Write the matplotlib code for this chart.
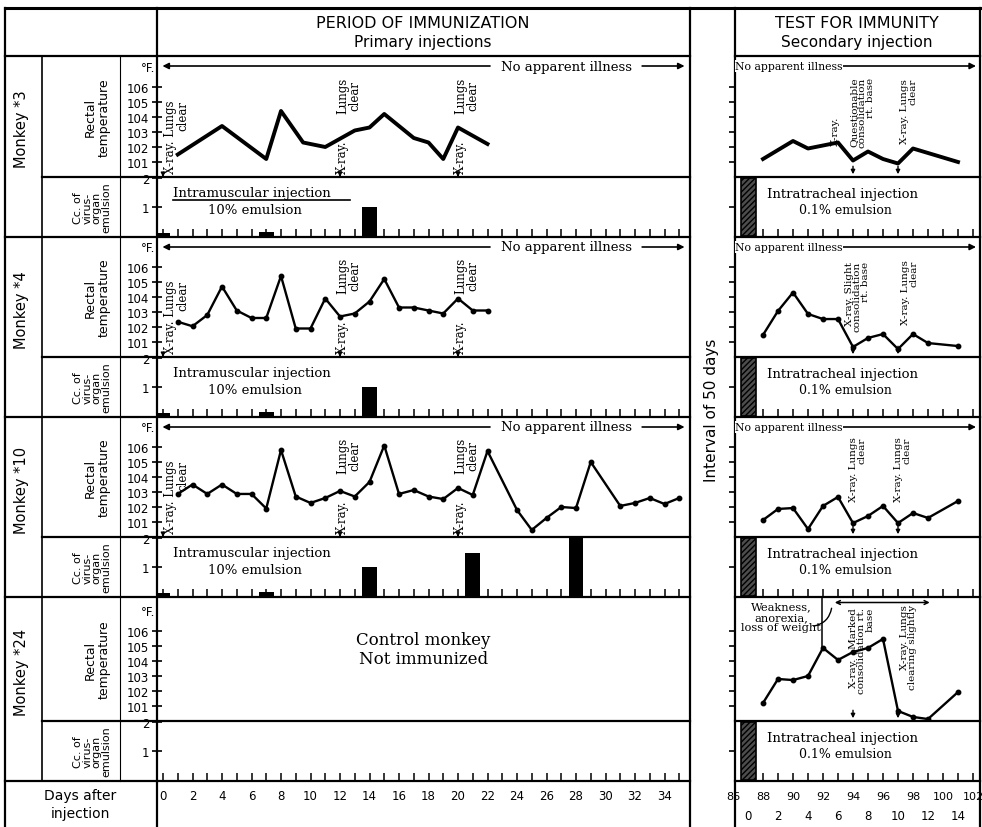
import matplotlib
matplotlib.use("Agg")
import matplotlib.pyplot as plt
from matplotlib.transforms import blended_transform_factory

W, H = 982, 828

# rectal temperature (deg F) by day after the first primary injection
m3_days = [1, 4, 7, 8, 9.5, 11, 13, 14, 15, 17, 18, 19, 20, 22]
m3_temp = [101.5, 103.4, 101.2, 104.4, 102.3, 102.0, 103.1, 103.3, 104.2, 102.6, 102.3, 101.2, 103.3, 102.2]
m4_days = list(range(1, 23))
m4_temp = [102.35, 102.05, 102.8, 104.7, 103.1, 102.6, 102.6, 105.4, 101.9, 101.9, 103.9,
           102.7, 102.9, 103.7, 105.2, 103.3, 103.3, 103.1, 102.9, 103.9, 103.1, 103.1]
m10_days = list(range(1, 23)) + [24, 25, 26, 27, 28, 29, 31, 32, 33, 34, 35]
m10_temp = [102.87, 103.5, 102.87, 103.5, 102.87, 102.87, 101.9, 105.8, 102.7, 102.27, 102.6,
            103.07, 102.7, 103.67, 106.1, 102.87, 103.13, 102.7, 102.53, 103.27, 102.8, 105.73,
            101.8, 100.47, 101.27, 102.0, 101.93, 105.0, 102.07, 102.27, 102.6, 102.2, 102.6]

# test for immunity, same day count (secondary injection on day 87)
r3_days = [88, 90, 91, 93, 94, 95, 96, 97, 98, 101]
r3_temp = [101.2, 102.4, 101.9, 102.3, 101.1, 101.7, 101.2, 100.9, 101.9, 101.0]
r_days = [88, 89, 90, 91, 92, 93, 94, 95, 96, 97, 98, 99, 101]
r4_temp = [101.47, 103.07, 104.3, 102.87, 102.53, 102.53, 100.67, 101.27, 101.53, 100.53, 101.53, 100.93, 100.73]
r10_temp = [101.13, 101.87, 101.93, 100.53, 102.07, 102.67, 100.93, 101.4, 102.07, 100.93, 101.6, 101.27, 102.4]
r24_temp = [101.2, 102.8, 102.73, 103.0, 104.87, 104.07, 104.6, 104.87, 105.47, 100.67, 100.27, 100.13, 101.93]

# cc of virus-organ emulsion given
inj_days_a = [0, 7, 14]
inj_cc_a = [0.08, 0.12, 1.0]
inj_days_10 = [0, 7, 14, 21, 28]
inj_cc_10 = [0.08, 0.12, 1.0, 1.5, 2.0]
sec_day = 87
sec_cc = 2.0

xray_days_left = [0, 12, 20]
xray_days_right = [94, 97]

left_day_labels = list(range(0, 35, 2))
right_day_labels = list(range(86, 103, 2))
right_rel_labels = list(range(0, 15, 2))

SERIF = "DejaVu Serif"
SANS = "DejaVu Sans"

fig = plt.figure(figsize=(W / 100, H / 100), dpi=100)
fig.patch.set_facecolor("white")

# frame of the table, drawn in pixel coordinates
ov = fig.add_axes([0, 0, 1, 1])
ov.set_xlim(0, W)
ov.set_ylim(H, 0)
ov.axis("off")

LX0, LX1 = 157, 690
RX0, RX1 = 735, 980
rows = [(57, 178, 238), (238, 358, 418), (418, 538, 598), (598, 722, 782)]
lw_frame = 1.6

ov.plot([5, RX1], [9, 9], color="k", lw=2.2)
for x in [5, LX0, LX1, RX0, RX1]:
    ov.plot([x, x], [9, H], color="k", lw=lw_frame)
ov.plot([42, 42], [57, 782], color="k", lw=1.2)
ov.plot([120, 120], [57, 782], color="k", lw=0.8)
ov.plot([5, LX1], [57, 57], color="k", lw=lw_frame)
ov.plot([RX0, RX1], [57, 57], color="k", lw=lw_frame)
for top, mid, bot in rows:
    ov.plot([42, LX1], [mid, mid], color="k", lw=lw_frame)
    ov.plot([RX0, RX1], [mid, mid], color="k", lw=lw_frame)
    ov.plot([5, LX1], [bot, bot], color="k", lw=lw_frame)
    ov.plot([RX0, RX1], [bot, bot], color="k", lw=lw_frame)

ov.text(423, 24, "PERIOD OF IMMUNIZATION", ha="center", va="center", fontsize=11.5, family=SANS)
ov.text(423, 43, "Primary injections", ha="center", va="center", fontsize=11, family=SANS)
ov.text(857, 24, "TEST FOR IMMUNITY", ha="center", va="center", fontsize=11.5, family=SANS)
ov.text(857, 43, "Secondary injection", ha="center", va="center", fontsize=11, family=SANS)
ov.text(712, 410, "Interval of 50 days", rotation=90, ha="center", va="center", fontsize=11, family=SANS)
ov.text(80, 805, "Days after\ninjection", ha="center", va="center", fontsize=10, family=SANS,
        linespacing=1.4)

monkeys = ["3", "4", "10", "24"]
for (top, mid, bot), name in zip(rows, monkeys):
    ov.text(22, (top + mid) / 2 + 12, "Monkey *" + name, rotation=90, ha="center", va="center",
            fontsize=10.5, family=SANS)
    ov.text(97, (top + mid) / 2, "Rectal\ntemperature", rotation=90, ha="center", va="center",
            fontsize=9, family=SANS, linespacing=1.1)
    ov.text(92, (mid + bot) / 2, "Cc. of\nvirus-\norgan\nemulsion", rotation=90, ha="center",
            va="center", fontsize=8, family=SANS, linespacing=0.95)


def px_axes(x0, y0, x1, y1):
    ax = fig.add_axes([x0 / W, 1 - y1 / H, (x1 - x0) / W, (y1 - y0) / H])
    ax.patch.set_visible(False)
    for s in ax.spines.values():
        s.set_visible(False)
    return ax


left_xlim = ((LX0 - 163) / 14.75, (LX1 - 163) / 14.75)
right_xlim = (86 + (RX0 - 733) / 15, 86 + (RX1 - 733) / 15)


def temp_axes(x0, x1, top, bot, xlim, labels):
    ax = px_axes(x0, top, x1, bot)
    ax.set_xlim(*xlim)
    ax.set_ylim(100, 100 + (bot - top) / 15)
    ax.set_xticks([])
    ax.set_yticks(range(101, 107))
    if labels:
        ax.tick_params(axis="y", direction="inout", length=7, width=1.2, labelsize=8.5, pad=2)
        for t in ax.get_yticklabels():
            t.set_family(SANS)
        ax.text(-0.004, 107.3, "°F.", transform=blended_transform_factory(ax.transAxes, ax.transData),
                ha="right", va="center", fontsize=8.5, family=SANS)
    else:
        ax.tick_params(axis="y", direction="out", length=4, width=1.2, labelleft=False)
    return ax


def inj_axes(x0, x1, mid, bot, xlim, ticks, labels):
    ax = px_axes(x0, mid, x1, bot)
    ax.set_xlim(*xlim)
    ax.set_ylim(-0.05, 2.05)
    ax.set_xticks(ticks)
    ax.tick_params(axis="x", direction="in", length=6, width=1.1, labelbottom=False)
    ax.set_yticks([1, 2])
    if labels:
        ax.tick_params(axis="y", direction="inout", length=7, width=1.2, labelsize=8.5, pad=2)
    else:
        ax.set_yticks([1])
        ax.tick_params(axis="y", direction="out", length=4, width=1.2, labelleft=False)
    return ax


def illness_arrow(ax, y_frac, x_text0, x_text1, text, fs):
    tr = ax.transAxes
    ax.annotate("", xy=(0.005, y_frac), xytext=(x_text0, y_frac), xycoords=tr, textcoords=tr,
                arrowprops=dict(arrowstyle="-|>", color="k", lw=1.2, mutation_scale=9))
    ax.annotate("", xy=(0.995, y_frac), xytext=(x_text1, y_frac), xycoords=tr, textcoords=tr,
                arrowprops=dict(arrowstyle="-|>", color="k", lw=1.2, mutation_scale=9))
    ax.text((x_text0 + x_text1) / 2, y_frac, text, transform=tr, ha="center", va="center",
            fontsize=fs, family=SERIF, bbox=dict(fc="white", ec="none", pad=0.5))


def xray_tick(ax, d, h):
    ax.annotate("", xy=(d, 100.0), xytext=(d, 100 + h),
                arrowprops=dict(arrowstyle="-|>", color="k", lw=1.0, mutation_scale=6))


left_series = [(m3_days, m3_temp), (m4_days, m4_temp), (m10_days, m10_temp), None]
right_series = [(r3_days, r3_temp), (r_days, r4_temp), (r_days, r10_temp), (r_days, r24_temp)]
left_inj = [(inj_days_a, inj_cc_a), (inj_days_a, inj_cc_a), (inj_days_10, inj_cc_10), None]

for i, (top, mid, bot) in enumerate(rows):
    # primary period, temperature
    axl = temp_axes(LX0, LX1, top, mid, left_xlim, True)
    if left_series[i] is not None:
        d, t = left_series[i]
        if i == 0:
            axl.plot(d, t, color="k", lw=2.8, solid_joinstyle="round")
        else:
            axl.plot(d, t, color="k", lw=1.7, marker="o", ms=3.2)
        illness_arrow(axl, 1 - 10 / (mid - top), 0.63, 0.905, "No apparent illness", 9.5)
        for xd in xray_days_left:
            xray_tick(axl, xd, 0.35)
            if xd == 0:
                axl.text(xd + 0.95, 100.25, "X-ray. Lungs\nclear", rotation=90, ha="center",
                         va="bottom", fontsize=8.5, family=SERIF, multialignment="right",
                         linespacing=0.95)
            else:
                axl.text(xd + 0.15, 100.25, "X-ray.", rotation=90, ha="center", va="bottom",
                         fontsize=8.5, family=SERIF)
                axl.text(xd + 0.6, 106.7, "Lungs\nclear", rotation=90, ha="center", va="top",
                         fontsize=8.5, family=SERIF, linespacing=0.95)
    else:
        axl.text(0.5, 0.58, "Control monkey\nNot immunized", transform=axl.transAxes, ha="center",
                 va="center", fontsize=12, family=SERIF, linespacing=1.15)

    # primary period, injections
    axi = inj_axes(LX0, LX1, mid, bot, left_xlim, range(0, 36), True)
    if left_inj[i] is not None:
        d, v = left_inj[i]
        axi.bar(d, v, width=1.0, color="k")
        axi.text(0.03, 0.74, "Intramuscular injection", transform=axi.transAxes, ha="left",
                 va="center", fontsize=9.5, family=SERIF)
        axi.text(0.096, 0.45, "10% emulsion", transform=axi.transAxes, ha="left", va="center",
                 fontsize=9.5, family=SERIF)
        if i == 0:
            axi.plot([0.03, 0.363], [0.62, 0.62], transform=axi.transAxes, color="k", lw=1.2)

    # test for immunity, temperature
    axr = temp_axes(RX0, RX1, top, mid, right_xlim, False)
    d, t = right_series[i]
    if i == 0:
        axr.plot(d, t, color="k", lw=2.8, solid_joinstyle="round")
    else:
        axr.plot(d, t, color="k", lw=1.7, marker="o", ms=3.2)
    for xd in xray_days_right:
        xray_tick(axr, xd, 0.9)
    if i < 3:
        illness_arrow(axr, 1 - 10 / (mid - top), 0.02, 0.42, "No apparent illness", 7.8)
    if i == 0:
        axr.text(92.8, 104.1, "X-ray.", rotation=90, ha="center", va="top", fontsize=7.5, family=SERIF)
        axr.text(94.6, 106.7, "Questionable\nconsolidation\nrt. base", rotation=90, ha="center",
                 va="top", fontsize=7.5, family=SERIF, multialignment="right", linespacing=0.9)
        axr.text(97.7, 106.6, "X-ray. Lungs\nclear", rotation=90, ha="center", va="top",
                 fontsize=7.5, family=SERIF, multialignment="right", linespacing=0.9)
    elif i == 1:
        axr.text(94.3, 106.4, "X-ray. Slight\nconsolidation\nrt. base", rotation=90, ha="center",
                 va="top", fontsize=7.5, family=SERIF, multialignment="right", linespacing=0.9)
        axr.text(97.8, 106.5, "X-ray. Lungs\nclear", rotation=90, ha="center", va="top",
                 fontsize=7.5, family=SERIF, multialignment="right", linespacing=0.9)
    elif i == 2:
        for xd in [94.3, 97.3]:
            axr.text(xd, 106.7, "X-ray. Lungs\nclear", rotation=90, ha="center", va="top",
                     fontsize=7.5, family=SERIF, multialignment="right", linespacing=0.9)
    else:
        axr.text(0.025, 0.84, "Weakness,\nanorexia,\nloss of weight", transform=axr.transAxes,
                 ha="left", va="center", fontsize=8.2, family=SERIF, linespacing=1.05,
                 multialignment="center")
        axr.plot([0.355, 0.355], [0.6, 1.0], transform=axr.transAxes, color="k", lw=1.1)
        axr.annotate("", xy=(92.6, 107.9), xytext=(99.3, 107.9),
                     arrowprops=dict(arrowstyle="<->", color="k", lw=1.1, mutation_scale=7))
        axr.annotate("", xy=(92.6, 107.7), xytext=(91.2, 106.3),
                     arrowprops=dict(arrowstyle="-", color="k", lw=1.0,
                                     connectionstyle="arc3,rad=0.4"))
        axr.text(94.6, 107.6, "X-ray.   Marked\nconsolidation rt.\nbase", rotation=90, ha="center",
                 va="top", fontsize=7.5, family=SERIF, multialignment="right", linespacing=0.9)
        axr.text(97.7, 107.8, "X-ray. Lungs\nclearing slightly", rotation=90, ha="center",
                 va="top", fontsize=7.5, family=SERIF, multialignment="right", linespacing=0.9)

    # test for immunity, injection
    axs = inj_axes(RX0, RX1, mid, bot, right_xlim, range(88, 103), False)
    axs.bar([sec_day], [sec_cc], width=1.0, color="0.3", edgecolor="k", hatch="//////", lw=1.2)
    axs.text(0.13, 0.72, "Intratracheal injection", transform=axs.transAxes, ha="left",
             va="center", fontsize=9.5, family=SERIF)
    axs.text(0.26, 0.45, "0.1% emulsion", transform=axs.transAxes, ha="left", va="center",
             fontsize=9, family=SERIF)

# day scales along the bottom
axd = px_axes(LX0, 782, LX1, H)
axd.set_xlim(*left_xlim)
axd.set_xticks([])
axd.set_yticks([])
for d in left_day_labels:
    axd.text(d, 0.68, str(d), transform=axd.get_xaxis_transform(), ha="center", va="center",
             fontsize=8.5, family=SANS)

axe = px_axes(RX0, 782, RX1, H)
axe.set_xlim(*right_xlim)
axe.set_xticks([])
axe.set_yticks([])
for d in right_day_labels:
    axe.text(d, 0.68, str(d), transform=axe.get_xaxis_transform(), ha="center", va="center",
             fontsize=8, family=SANS, clip_on=False)
for d in right_rel_labels:
    axe.text(sec_day + d, 0.25, str(d), transform=axe.get_xaxis_transform(), ha="center",
             va="center", fontsize=8.5, family=SANS)

fig.savefig("out.png", dpi=100, facecolor="white")
